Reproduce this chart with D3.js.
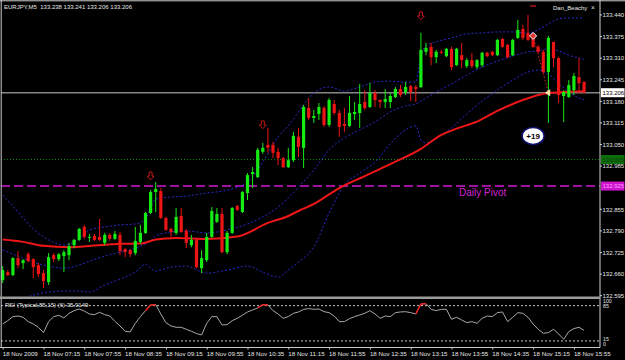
<!DOCTYPE html>
<html>
<head>
<meta charset="utf-8">
<script src="https://cdn.jsdelivr.net/npm/d3@7"></script>
<style>
body{margin:0;background:#000;}
svg{display:block;font-family:"Liberation Sans",Arial,sans-serif;}
</style>
</head>
<body>
<div id="chart"></div>
<script>
// ================= data (EURJPY M5, 18 Nov 2009 06:35 - 16:05) =================
const opens = [132.642,132.666,132.657,132.708,132.693,132.720,132.705,132.687,132.663,132.636,
132.717,132.705,132.714,132.717,132.747,132.763,132.802,132.769,132.775,132.772,
132.754,132.778,132.766,132.778,132.735,132.732,132.723,132.757,132.784,132.844,
132.907,132.910,132.829,132.796,132.784,132.835,132.790,132.747,132.763,132.678,
132.702,132.772,132.817,132.841,132.726,132.784,132.865,132.847,132.904,132.961,
132.952,133.028,133.049,133.049,133.028,133.009,132.982,133.003,133.073,133.040,
133.160,133.130,133.142,133.160,133.109,133.172,133.145,133.112,133.106,133.142,
133.145,133.178,133.163,133.205,133.184,133.178,133.178,133.193,133.217,133.208,
133.226,133.223,133.223,133.329,133.344,133.313,133.329,133.316,133.338,133.289,
133.319,133.286,133.304,133.283,133.289,133.326,133.329,133.319,133.368,133.350,
133.319,133.371,133.398,133.386,133.374,133.344,133.329,133.268,133.359,133.310,
133.196,133.193,133.214,133.253,133.238];
const highs = [132.684,132.672,132.711,132.729,132.705,132.726,132.708,132.693,132.672,132.723,
132.723,132.723,132.732,132.754,132.766,132.799,132.808,132.781,132.781,132.826,
132.784,132.784,132.790,132.787,132.738,132.735,132.802,132.808,132.847,132.913,
132.937,132.919,132.832,132.799,132.859,132.859,132.796,132.778,132.769,132.732,
132.784,132.862,132.859,132.859,132.790,132.862,132.868,132.910,132.964,132.982,
133.040,133.055,133.100,133.058,133.040,133.012,133.040,133.088,133.100,133.169,
133.190,133.154,133.175,133.166,133.190,133.184,133.154,133.160,133.196,133.178,
133.232,133.214,133.235,133.214,133.187,133.217,133.205,133.223,133.229,133.238,
133.229,133.229,133.386,133.356,133.356,133.335,133.335,133.341,133.344,133.341,
133.356,133.310,133.326,133.307,133.329,133.329,133.332,133.368,133.371,133.353,
133.368,133.425,133.410,133.440,133.380,133.350,133.335,133.377,133.359,133.313,
133.214,133.244,133.265,133.310,133.241];
const lows = [132.633,132.654,132.654,132.678,132.675,132.696,132.648,132.651,132.618,132.627,
132.696,132.699,132.666,132.702,132.738,132.760,132.766,132.757,132.760,132.760,
132.747,132.760,132.763,132.717,132.711,132.711,132.717,132.751,132.781,132.841,
132.847,132.826,132.790,132.772,132.778,132.784,132.738,132.741,132.678,132.663,
132.696,132.769,132.814,132.723,132.720,132.781,132.850,132.844,132.883,132.919,
132.949,133.022,133.025,133.009,132.988,132.979,132.979,132.997,133.012,132.979,
133.124,133.115,133.124,133.103,133.103,133.139,133.073,133.088,133.103,133.124,
133.100,133.154,133.160,133.163,133.160,133.160,133.160,133.190,133.193,133.199,
133.181,133.178,133.220,133.319,133.289,133.295,133.322,133.313,133.274,133.286,
133.280,133.280,133.280,133.277,133.283,133.313,133.316,133.316,133.341,133.310,
133.316,133.368,133.365,133.362,133.341,133.326,133.265,133.115,133.283,133.175,
133.118,133.190,133.199,133.205,133.206];
const closes = [132.672,132.657,132.708,132.687,132.702,132.699,132.681,132.660,132.639,132.711,
132.705,132.720,132.726,132.744,132.763,132.796,132.772,132.772,132.763,132.763,
132.778,132.766,132.781,132.729,132.726,132.720,132.760,132.784,132.844,132.907,
132.916,132.829,132.793,132.787,132.832,132.787,132.754,132.763,132.681,132.708,
132.772,132.850,132.841,132.726,132.784,132.859,132.853,132.907,132.958,132.967,
133.034,133.040,133.040,133.025,133.009,132.982,133.003,133.076,133.043,133.163,
133.130,133.136,133.163,133.109,133.184,133.145,133.103,133.106,133.145,133.148,
133.172,133.160,133.205,133.184,133.178,133.187,133.196,133.217,133.199,133.223,
133.208,133.217,133.335,133.341,133.313,133.329,133.326,133.338,133.283,133.338,
133.304,133.304,133.286,133.304,133.326,133.316,133.319,133.365,133.344,133.313,
133.365,133.395,133.371,133.365,133.344,133.329,133.268,133.371,133.310,133.199,
133.208,133.229,133.256,133.235,133.206];

// RSI (Typical,85,15) (6), one value per bar
const rsiVals = [48.7,55.3,63.2,64.5,61.9,53.3,48.7,42.1,31.5,53.3,
63.2,65.9,60.6,69.8,75.1,78.4,74.4,68.5,67.2,71.8,
67.2,64.5,54.0,44.7,34.2,32.9,50.0,63.2,75.1,86.5,
87.0,68.5,51.3,44.7,42.1,42.1,38.1,34.2,29.6,26.9,
50.0,63.2,63.2,46.7,47.4,55.3,59.9,65.9,72.5,76.4,
80.4,87.0,86.5,75.1,68.5,59.9,63.2,69.8,72.5,77.7,
79.1,77.7,78.4,73.1,71.1,64.5,53.3,53.3,59.3,63.2,
66.5,69.8,75.1,68.5,59.9,64.5,63.2,71.1,72.5,73.1,
71.1,68.5,88.3,89.0,77.7,75.1,77.7,77.7,57.9,61.9,
56.6,51.3,53.3,50.0,59.9,64.5,63.2,71.1,72.5,53.3,
61.9,71.1,69.8,61.9,48.7,38.1,30.2,31.5,38.1,28.9,
18.3,33.5,39.5,42.1,35.91];
const rsiLevels = [85, 15];
const rsiScaleLabels = [100, 85, 15, 0];

// moving average (red), read at these bars
const maBars = [0,4,8,13,18,23,27,30,34,40,46,52,56,58,61,66,71,76,82,86,89,93,97,102,107,110,114];
const maVals = [132.764,132.757,132.745,132.741,132.746,132.751,132.752,132.764,132.769,132.766,
132.773,132.814,132.835,132.850,132.871,132.919,132.955,132.991,133.037,133.079,
133.098,133.119,133.151,133.184,133.205,133.208,133.210];

// Bollinger bands (blue dotted), read at these bars
const bbBars = [0,3,6,9,12,15,17,20,23,26,28,29,30,33,36,40,44,48,51,54,56,58,61,64,67,70,73,76,79,81,82,83,85,88,91,94,97,100,103,105,107,109,111,113,114];
const bbUpper = [132.898,132.847,132.796,132.763,132.747,132.766,132.793,132.802,132.808,132.811,
132.826,132.859,132.886,132.892,132.895,132.904,132.913,132.937,132.997,133.073,
133.106,133.148,133.205,133.223,133.211,133.223,133.238,133.241,133.238,133.238,
133.316,133.347,133.359,133.371,133.383,133.386,133.389,133.389,133.386,133.395,
133.413,133.428,133.431,133.431,133.431];
const bbMid = [132.733,132.714,132.696,132.684,132.678,132.687,132.699,132.714,132.726,132.738,
132.751,132.760,132.775,132.787,132.790,132.784,132.793,132.811,132.832,132.862,
132.889,132.922,132.973,133.034,133.070,133.094,133.118,133.148,133.166,133.172,
133.181,133.190,133.208,133.232,133.259,133.283,133.301,133.316,133.329,133.332,
133.338,133.332,133.319,133.310,133.307];
const bbLower = [132.567,132.582,132.597,132.606,132.609,132.609,132.606,132.627,132.645,132.666,
132.690,132.678,132.669,132.681,132.684,132.663,132.672,132.684,132.666,132.651,
132.672,132.696,132.741,132.844,132.928,132.964,132.997,133.052,133.094,133.106,
133.064,133.055,133.070,133.100,133.142,133.181,133.214,133.244,133.268,133.274,
133.262,133.235,133.208,133.190,133.184];

// 132.920 sits under the pivot label, so it is not listed
const priceTicks = [133.440,133.375,133.310,133.245,133.180,133.115,133.050,132.985,132.855,132.790,132.725,132.660,132.595];
const timeTickBars = [0,8,16,24,32,40,48,56,64,72,80,88,96,104,112];

const lastPrice = 133.206;
const greenLevel = 133.005;
const pivotPrice = 132.925;
const arrowBars = [29, 51, 82];
const arrowPrices = [132.955, 133.109, 133.437];
const dashBar = 104, dashPrice = 133.467;
const tradeOpenBar = 104, tradeOpenPrice = 133.377;
const tradeCloseBar = 107, tradeClosePrice = 133.206;
const tradeLabelBar = 104, tradeLabelPrice = 133.076, tradeLabel = "+19";

const titleText = "EURJPY,M5  133.238 133.241 133.206 133.206";
const rsiTitle = "RSI (Typical,85,15) (6) 35.9149";

//===================== layout =========================
const W = 625, H = 360;
const plotL = 1, plotR = 600, mainT = 1, mainB = 296.5, rsiT = 299, rsiB = 347.5;

const svg = d3.select("#chart").append("svg").attr("width", W).attr("height", H);
svg.append("rect").attr("width", W).attr("height", H).attr("fill", "#000");

const t0 = new Date(2009, 10, 18, 6, 35);
const times = closes.map((d, i) => d3.timeMinute.offset(t0, 5 * i));

const x = d3.scaleTime().domain([times[0], times[times.length - 1]]).range([2.7, 584.1]);
const y = d3.scaleLinear().domain([132.595, 133.440]).range([295.7, 14.95]);
const yr = d3.scaleLinear().domain([0, 100]).range([348.5, 298.1]);
const bx = i => x(times[i]);

const defs = svg.append("defs");
defs.append("clipPath").attr("id", "clipMain").append("rect")
  .attr("x", plotL).attr("y", mainT).attr("width", plotR - plotL).attr("height", mainB - mainT);
defs.append("clipPath").attr("id", "clipRsi").append("rect")
  .attr("x", plotL).attr("y", rsiT).attr("width", plotR - plotL).attr("height", rsiB - rsiT);

const main = svg.append("g").attr("clip-path", "url(#clipMain)");

//=============== horizontal levels =================
function hline(g, yy, color, width, dash) {
  g.append("line").attr("x1", plotL).attr("x2", plotR).attr("y1", yy).attr("y2", yy)
    .attr("stroke", color).attr("stroke-width", width).attr("stroke-dasharray", dash || null);
}
hline(main, y(greenLevel), "#0b8a0b", 1, "1,2");
hline(main, y(pivotPrice), "#d21ad2", 1.5, "9,4");
hline(main, y(lastPrice), "#858585", 1.5);

//=============== bollinger + ma ====================
const bandLine = d3.line().x((d, i) => bx(bbBars[i])).y(d => y(d)).curve(d3.curveMonotoneX);
[bbUpper, bbMid, bbLower].forEach(v => {
  main.append("path").attr("d", bandLine(v)).attr("fill", "none")
    .attr("stroke", "#2a2acc").attr("stroke-width", 1).attr("stroke-dasharray", "2,2");
});
const maLine = d3.line().x((d, i) => bx(maBars[i])).y(d => y(d)).curve(d3.curveMonotoneX);
main.append("path").attr("d", maLine(maVals)).attr("fill", "none")
  .attr("stroke", "#ee1616").attr("stroke-width", 2);

//=============== candles ===========================
const candles = main.append("g").selectAll("g").data(closes).enter().append("g");
const col = i => closes[i] >= opens[i] ? "#14ec14" : "#ec1414";
candles.append("line")
  .attr("x1", (d, i) => bx(i)).attr("x2", (d, i) => bx(i))
  .attr("y1", (d, i) => y(highs[i])).attr("y2", (d, i) => y(lows[i]))
  .attr("stroke", (d, i) => col(i)).attr("stroke-width", 1);
candles.append("rect")
  .attr("x", (d, i) => bx(i) - 1.6).attr("width", 3.2)
  .attr("y", (d, i) => y(Math.max(opens[i], closes[i])))
  .attr("height", (d, i) => Math.max(1, Math.abs(y(opens[i]) - y(closes[i]))))
  .attr("fill", (d, i) => col(i));

//=============== markers ===========================
arrowBars.forEach((b, k) => {
  const cx = bx(b), cy = y(arrowPrices[k]);
  main.append("path")
    .attr("d", `M${cx-1.5},${cy-4}L${cx+1.5},${cy-4}L${cx+1.5},${cy}L${cx+3.5},${cy}L${cx},${cy+3.8}L${cx-3.5},${cy}L${cx-1.5},${cy}Z`)
    .attr("fill", "none").attr("stroke", "#c81818").attr("stroke-width", 1);
});
main.append("line").attr("x1", bx(dashBar) - 3).attr("x2", bx(dashBar) + 3)
  .attr("y1", y(dashPrice)).attr("y2", y(dashPrice)).attr("stroke", "#b01818").attr("stroke-width", 1.5);

const ox = bx(tradeOpenBar), oy = y(tradeOpenPrice);
const cx2 = bx(tradeCloseBar), cy2 = y(tradeClosePrice);
main.append("line").attr("x1", ox).attr("y1", oy).attr("x2", cx2).attr("y2", cy2)
  .attr("stroke", "#e02424").attr("stroke-width", 1).attr("stroke-dasharray", "1.5,2");
main.append("path").attr("d", `M${ox},${oy-3.5}L${ox+3.5},${oy}L${ox},${oy+3.5}L${ox-3.5},${oy}Z`)
  .attr("fill", "#e83030").attr("stroke", "#ffffff").attr("stroke-width", 1);
main.append("path").attr("d", `M${cx2-3},${cy2}L${cx2+1.5},${cy2-3}L${cx2+1.5},${cy2+3}Z`)
  .attr("fill", "#ffe6a0").attr("stroke", "#fff3d0").attr("stroke-width", 0.6);

const lx = bx(tradeLabelBar), ly = y(tradeLabelPrice);
main.append("ellipse").attr("cx", lx).attr("cy", ly).attr("rx", 11).attr("ry", 8.5)
  .attr("fill", "#ffffff").attr("stroke", "#101070").attr("stroke-width", 1.5);
main.append("text").attr("x", lx).attr("y", ly + 2.8).attr("text-anchor", "middle")
  .attr("font-size", 8).attr("font-weight", "bold").attr("fill", "#000").text(tradeLabel);

main.append("text").attr("x", 459).attr("y", y(pivotPrice) + 10)
  .attr("font-size", 10).attr("fill", "#d424d4").text("Daily Pivot");

//=============== rsi panel =========================
const rsiG = svg.append("g").attr("clip-path", "url(#clipRsi)");
rsiLevels.forEach(v => hline(rsiG, yr(v), "#c8c8c8", 1, "2,2"));
const rsiLine = d3.line().x((d, i) => bx(i)).y(d => yr(d));
rsiG.append("path").attr("d", rsiLine(rsiVals)).attr("fill", "none")
  .attr("stroke", "#a8a8a8").attr("stroke-width", 1);
rsiVals.forEach((v, i) => {
  if (i > 0 && v > 85) {
    rsiG.append("line").attr("x1", bx(i - 1)).attr("y1", yr(rsiVals[i - 1]))
      .attr("x2", bx(i)).attr("y2", yr(v)).attr("stroke", "#f02020").attr("stroke-width", 1.5);
  }
});
svg.append("text").attr("x", 5).attr("y", 306.5).attr("font-size", 6)
  .attr("fill", "#e6e6e6").text(rsiTitle);

//=============== frame =============================
svg.append("line").attr("x1", 0).attr("x2", W).attr("y1", 0.8).attr("y2", 0.8).attr("stroke", "#d0d0d0").attr("stroke-width", 1);
svg.append("line").attr("x1", 1.2).attr("x2", 1.2).attr("y1", 0).attr("y2", rsiB).attr("stroke", "#d0d0d0").attr("stroke-width", 1);
svg.append("line").attr("x1", plotR).attr("x2", plotR).attr("y1", 0).attr("y2", rsiB).attr("stroke", "#d0d0d0").attr("stroke-width", 1);
svg.append("line").attr("x1", 0).attr("x2", plotR).attr("y1", 297.8).attr("y2", 297.8).attr("stroke", "#9c9c9c").attr("stroke-width", 2.4);
svg.append("line").attr("x1", 0).attr("x2", plotR).attr("y1", rsiB).attr("y2", rsiB).attr("stroke", "#c8c8c8").attr("stroke-width", 1);

//=============== price scale =======================
const ps = svg.append("g").attr("font-size", 6).attr("fill", "#e6e6e6");
priceTicks.forEach(p => {
  ps.append("line").attr("x1", plotR).attr("x2", plotR + 2).attr("y1", y(p)).attr("y2", y(p)).attr("stroke", "#d0d0d0");
  ps.append("text").attr("x", 602.5).attr("y", y(p) + 2.2).text(p.toFixed(3));
});
function priceBox(p, bg, fg) {
  ps.append("rect").attr("x", 601).attr("y", y(p) - 4.5).attr("width", 23.5).attr("height", 9).attr("fill", bg);
  ps.append("text").attr("x", 602.5).attr("y", y(p) + 2.2).attr("fill", fg).text(p.toFixed(3));
}
priceBox(greenLevel, "#0b6e0b", "#0a3a0a");
priceBox(pivotPrice, "#cc14cc", "#ff9cff");
priceBox(lastPrice, "#ffffff", "#000000");

// rsi scale labels sit in pairs near the panel edges
const rsiLabelY = {100: 302.5, 85: 308.2, 15: 340.6, 0: 346.4};
rsiScaleLabels.forEach(v => {
  svg.append("text").attr("x", 603).attr("y", rsiLabelY[v]).attr("font-size", 5.2).attr("fill", "#e6e6e6").text(v);
});

//=============== time axis =========================
const fmtDay = d3.timeFormat("%d %b %Y"), fmtTime = d3.timeFormat("%d %b %H:%M");
const xAxis = d3.axisBottom(x)
  .tickValues(timeTickBars.map(i => times[i]))
  .tickFormat((d, k) => k === 0 ? fmtDay(d) : fmtTime(d))
  .tickSize(2);
const ax = svg.append("g").attr("transform", `translate(0,${rsiB})`).call(xAxis);
ax.select(".domain").remove();
ax.selectAll(".tick line").attr("stroke", "#c8c8c8");
ax.selectAll(".tick text").attr("text-anchor", "start").attr("x", -0.5).attr("y", 4.5)
  .attr("font-size", 6.2).attr("fill", "#e6e6e6").attr("font-family", "Liberation Sans, Arial, sans-serif");

//=============== titles ============================
svg.append("text").attr("x", 4).attr("y", 8.5).attr("font-size", 6).attr("fill", "#e6e6e6")
  .style("white-space", "pre").text(titleText);
svg.append("text").attr("x", 553).attr("y", 10).attr("font-size", 6).attr("fill", "#e6e6e6").text("Dan_Beachy");
svg.append("text").attr("x", 591).attr("y", 10).attr("font-size", 6.5).attr("fill", "#e6e6e6").text("×");
</script>
</body>
</html>
